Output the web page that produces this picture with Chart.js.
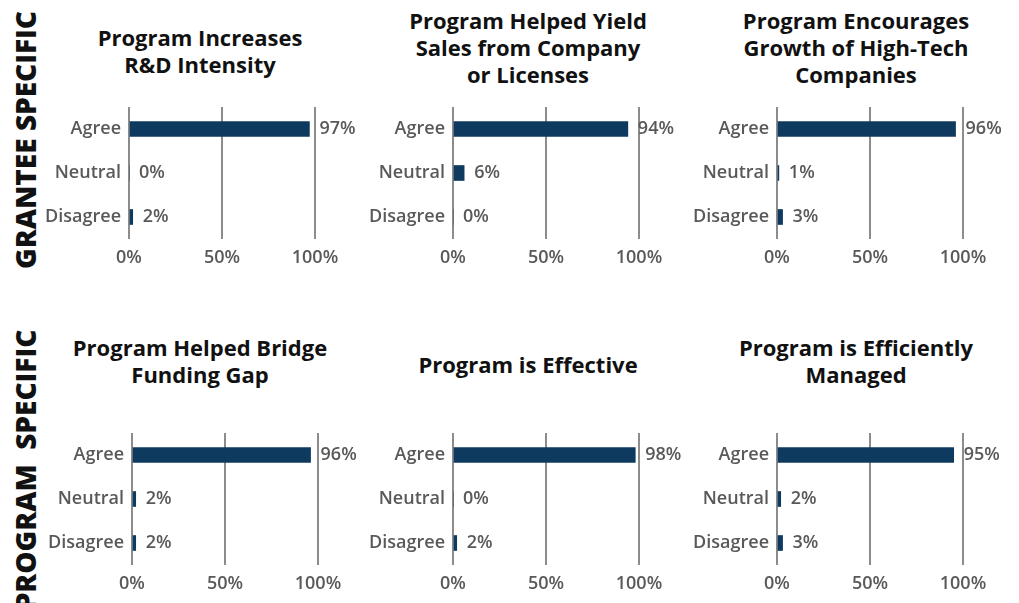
<!DOCTYPE html>
<html>
<head>
<meta charset="utf-8">
<script src="https://cdn.jsdelivr.net/npm/chart.js@4"></script>
<style>
  html, body { margin: 0; padding: 0; background: #fff; }
  body { width: 1019px; height: 603px; position: relative; overflow: hidden; font-family: "Open Sans", sans-serif; }
  canvas { position: absolute; }
  .title { position: absolute; width: 340px; text-align: center; font-size: 22px; line-height: 27px; font-weight: 700; color: #111; }
  .side { position: absolute; white-space: pre; font-size: 28px; font-weight: 800; color: #111; transform: translate(-50%, -50%) rotate(-90deg); }
</style>
</head>
<body>
<div class="side" style="left:25px; top:140px">GRANTEE SPECIFIC</div>
<div class="side" style="left:25px; top:470px">PROGRAM  SPECIFIC</div>
<script>
const categories = ['Agree', 'Neutral', 'Disagree']
const xTicks = [0, 50, 100]

const titles = [
  ['Program Increases', 'R&D Intensity'],
  ['Program Helped Yield', 'Sales from Company', 'or Licenses'],
  ['Program Encourages', 'Growth of High-Tech', 'Companies'],
  ['Program Helped Bridge', 'Funding Gap'],
  ['Program is Effective'],
  ['Program is Efficiently', 'Managed']
]

const rdIntensity = [97, 0, 2]
const salesYield = [94, 6, 0]
const highTechGrowth = [96, 1, 3]
const fundingGap = [96, 2, 2]
const effective = [98, 0, 2]
const efficientlyManaged = [95, 2, 3]
const panelValues = [rdIntensity, salesYield, highTechGrowth, fundingGap, effective, efficientlyManaged]

// layout of each small chart
const plotLeft = [129, 453, 777, 132, 453, 777]
const plotTop = [107, 107, 107, 433, 433, 433]
const titleCenter = [200, 528, 856, 200, 528, 856]
const titleTop = [24, 7, 7, 334, 351, 334]
const plotWidth = 186
const plotHeight = 132
const yAxisWidth = 112
const xAxisHeight = 40
const padTop = 8
const padRight = 55

Chart.defaults.font.family = '"Open Sans", sans-serif'
Chart.defaults.font.weight = '600'
Chart.defaults.font.size = 18
Chart.defaults.color = '#595959'

const barLabels = {
  id: 'barLabels',
  afterDatasetsDraw(chart) {
    const ctx = chart.ctx
    const xs = chart.scales.x
    const meta = chart.getDatasetMeta(0)
    ctx.save()
    ctx.font = '600 18px "Open Sans", sans-serif'
    ctx.fillStyle = '#595959'
    ctx.textAlign = 'left'
    ctx.textBaseline = 'middle'
    chart.data.datasets[0].data.forEach((v, i) => {
      const bar = meta.data[i]
      ctx.fillText(v + '%', xs.getPixelForValue(v) + 10, bar.y)
    })
    ctx.restore()
  }
}

panelValues.forEach((values, i) => {
  const t = document.createElement('div')
  t.className = 'title'
  t.style.left = (titleCenter[i] - 170) + 'px'
  t.style.top = titleTop[i] + 'px'
  t.innerHTML = titles[i].map(s => s.replace('&', '&amp;')).join('<br>')
  document.body.appendChild(t)

  const c = document.createElement('canvas')
  c.width = yAxisWidth + plotWidth + padRight
  c.height = padTop + plotHeight + xAxisHeight
  c.style.left = (plotLeft[i] - yAxisWidth) + 'px'
  c.style.top = (plotTop[i] - padTop) + 'px'
  document.body.appendChild(c)

  new Chart(c.getContext('2d'), {
    type: 'bar',
    data: {
      labels: categories,
      datasets: [{
        data: values,
        backgroundColor: '#0f3a5f',
        barThickness: 15
      }]
    },
    options: {
      indexAxis: 'y',
      responsive: false,
      animation: false,
      layout: { padding: { top: padTop, right: padRight, left: 0, bottom: 0 } },
      plugins: { legend: { display: false }, tooltip: { enabled: false } },
      scales: {
        x: {
          min: 0,
          max: 100,
          afterBuildTicks: s => { s.ticks = xTicks.map(v => ({ value: v })) },
          afterFit: s => { s.height = xAxisHeight },
          ticks: { callback: v => v + '%', padding: 8 },
          grid: { color: '#8c8c8c', lineWidth: 2, drawTicks: false },
          border: { display: false }
        },
        y: {
          afterFit: s => {
            s.width = yAxisWidth
            s.paddingTop = 0
            s.paddingBottom = 0
          },
          ticks: { padding: 8 },
          grid: { display: false, drawTicks: false },
          border: { display: false }
        }
      }
    },
    plugins: [barLabels]
  })
})
</script>
</body>
</html>
